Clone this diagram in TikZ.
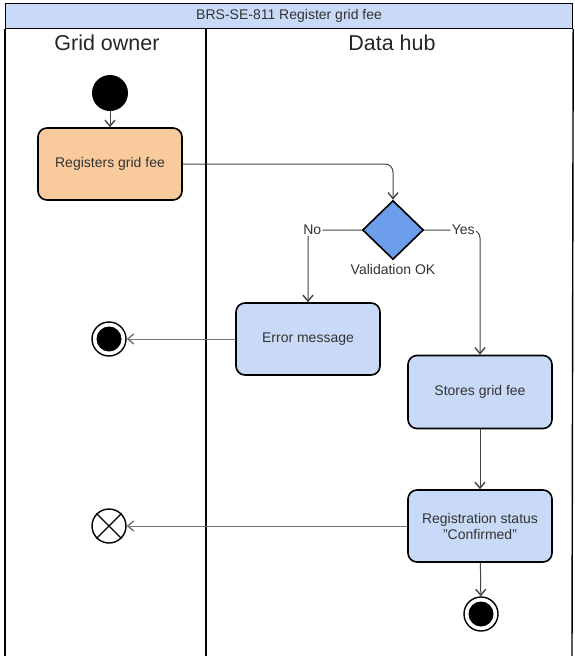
\documentclass[tikz,border=0pt]{standalone}
\usepackage{fontspec}
\setmainfont{Liberation Sans}
\usetikzlibrary{arrows.meta,shapes.geometric}
\definecolor{orangefill}{HTML}{F9CB9C}
\definecolor{bluefill}{HTML}{C9DAF8}
\definecolor{diafill}{HTML}{6D9EEB}
\definecolor{titlefill}{HTML}{C9DAF8}
\definecolor{txt}{HTML}{333333}
\definecolor{edge}{HTML}{444444}
\begin{document}
\begin{tikzpicture}[x=1pt,y=-1pt,
  actbox/.style={draw=black, line width=1.6pt, rounded corners=9pt, minimum width=144pt, minimum height=72pt, align=center, text=txt, font=\fontsize{14}{16}\selectfont},
  flow/.style={draw=edge, line width=1pt, -{Straight Barb[length=6pt,width=10pt,line width=1.4pt]}},
  lbl/.style={fill=white, inner sep=1.5pt, text=txt, font=\fontsize{14}{16}\selectfont},
  lane/.style={draw=black, line width=1.4pt}]
\useasboundingbox (0,0) rectangle (574,656);
% frame and lanes
\fill[white] (0,0) rectangle (574,656);
\node[draw=black, line width=1.2pt, fill=titlefill, minimum width=567pt, minimum height=25pt, anchor=north west, inner sep=0pt, text=txt, font=\fontsize{14}{16}\selectfont] (title) at (5,3) {BRS-SE-811 Register grid fee};
\draw[lane] (title.south west) -- (5,656);
\draw[lane] (title.south east) -- (572,656);
\coordinate (sepTop) at (206,28);
\coordinate (sepBot) at (206,656);
\draw[lane] (sepTop) -- (sepBot);
\node[text=black!85, font=\fontsize{21.5}{24}\selectfont] (owner) at (107,43) {Grid owner};
\node[text=black!85, font=\fontsize{21.5}{24}\selectfont] (hub) at (392,43) {Data hub};
% nodes
\node[circle, fill=black, minimum size=36pt, inner sep=0pt] (start) at (110,93) {};
\node[actbox, fill=orangefill] (reg) at (110,164) {Registers grid fee};
\node[diamond, draw=black, line width=1.6pt, fill=diafill, minimum width=61pt, minimum height=59pt, inner sep=0pt, aspect=1] (dia) at (393,230) {};
\node[text=txt, font=\fontsize{14}{16}\selectfont] (valid) at (393,269) {Validation OK};
\node[actbox, fill=bluefill] (err) at (308,339) {Error message};
\node[actbox, fill=bluefill, minimum height=73pt] (store) at (480,392) {Stores grid fee};
\node[actbox, fill=bluefill] (status) at (480,526) {Registration status\\"Confirmed"};
% final nodes
\node[circle, draw=black, line width=1.4pt, fill=white, minimum size=34pt, inner sep=0pt] (end1) at (109,339) {};
\node[circle, fill=black, minimum size=25pt, inner sep=0pt] (end1in) at (end1) {};
\node[circle, draw=black, line width=1.4pt, fill=white, minimum size=34pt, inner sep=0pt] (end2) at (481,614) {};
\node[circle, fill=black, minimum size=25pt, inner sep=0pt] (end2in) at (end2) {};
\node[circle, draw=black, line width=1.4pt, fill=white, minimum size=34pt, inner sep=0pt] (ff) at (109,526) {};
\draw[black, line width=1.4pt] (ff.north east) -- (ff.south west);
\draw[black, line width=1.4pt] (ff.north west) -- (ff.south east);
% edges
\draw[flow] (start) -- (reg);
\draw[flow, rounded corners=8pt] (reg.east) -| (dia.north);
\draw[flow, rounded corners=8pt] (dia.west) -| node[lbl, pos=0.46] {No} (err.north);
\draw[flow, rounded corners=8pt] (dia.east) -| node[lbl, pos=0.35] {Yes} (store.north);
\draw[flow] (store) -- (status);
\draw[flow] (status) -- (end2);
\draw[flow, draw=black!55] (err.west) -- (end1.east);
\draw[flow, draw=black!55] (status.west) -- (ff.east);
\end{tikzpicture}
\end{document}
